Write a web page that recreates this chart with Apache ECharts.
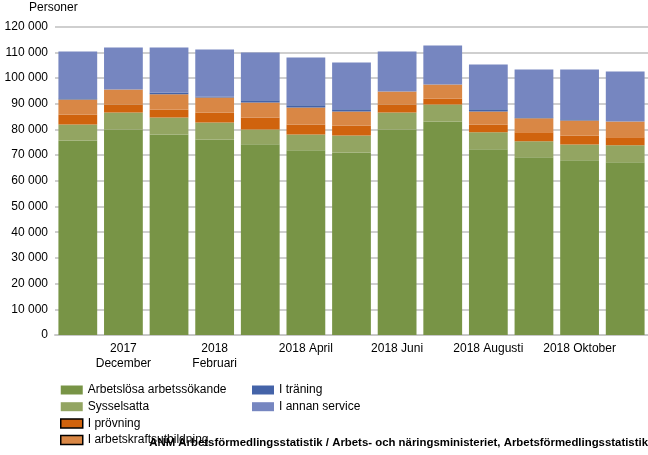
<!DOCTYPE html>
<html>
<head>
<meta charset="utf-8">
<script src="https://cdn.jsdelivr.net/npm/echarts@6/dist/echarts.min.js"></script>
<style>
html,body{margin:0;padding:0;background:#fff;}
#c{width:648px;height:455px;}
</style>
</head>
<body>
<div id="c"></div>
<script>
const categories = ['2017 November','2017 December','2018 Januari','2018 Februari','2018 Mars','2018 April','2018 Maj','2018 Juni','2018 Juli','2018 Augusti','2018 September','2018 Oktober','2018 November'];
const arbetslosa = [75700, 80000, 78050, 76100, 74200, 71850, 71050, 80000, 83100, 72250, 69150, 67950, 67200];
const sysselsatta = [6250, 6600, 6600, 6600, 5800, 6200, 6600, 6600, 6600, 6600, 6200, 6200, 6600];
const provning = [3850, 3100, 3100, 3900, 4650, 3900, 3900, 3100, 2350, 3100, 3500, 3500, 3100];
const utbildning = [5850, 5800, 5950, 5850, 5800, 6600, 5450, 5050, 5450, 5050, 5450, 5800, 6200];
const traning = [500, 0, 700, 400, 900, 800, 800, 0, 0, 800, 400, 500, 0];
const annanService = [18150, 16350, 17450, 18250, 18550, 18650, 18200, 15550, 15150, 17450, 18650, 19350, 19400];
const yTicks = [0, 10000, 20000, 30000, 40000, 50000, 60000, 70000, 80000, 90000, 100000, 110000, 120000];

const names = ['Arbetslösa arbetssökande','Sysselsatta','I prövning','I arbetskraftsutbildning','I träning','I annan service'];
const colors = ['#789446','#93A562','#D0630D','#D98745','#4463A8','#7686C0'];
const values = [arbetslosa, sysselsatta, provning, utbildning, traning, annanService];

const fmt = v => String(v).replace(/\B(?=(\d{3})+(?!\d))/g, ' ');
const font = 'Liberation Sans, Arial, sans-serif';

const chart = echarts.init(document.getElementById('c'));
chart.setOption({
  animation: false,
  color: colors,
  textStyle: {fontFamily: font},
  grid: {left: 55, right: 0, top: 26.6, bottom: 120, containLabel: false},
  xAxis: {
    type: 'category',
    data: categories,
    axisTick: {show: false},
    axisLine: {lineStyle: {color: '#c8c8c8', width: 2}},
    axisLabel: {
      interval: (i) => i % 2 === 1,
      color: '#000', fontSize: 12, fontFamily: font, lineHeight: 15, margin: 6,
      formatter: s => s.length > 12 ? s.replace(' ', '\n') : s
    }
  },
  yAxis: {
    type: 'value',
    min: yTicks[0], max: yTicks[yTicks.length - 1], interval: 10000,
    axisLine: {show: false}, axisTick: {show: false},
    splitLine: {lineStyle: {color: '#cfcfcf', width: 2}},
    axisLabel: {color: '#000', fontSize: 12, fontFamily: font, margin: 7, formatter: fmt}
  },
  legend: [
    {
      orient: 'vertical', left: 55, top: 379, icon: 'rect', itemWidth: 22, itemHeight: 9, itemGap: 4.7,
      textStyle: {color: '#000', fontSize: 12, fontFamily: font},
      data: [
        {name: names[0]},
        {name: names[1]},
        {name: names[2], itemStyle: {borderColor: '#000', borderWidth: 1.5}},
        {name: names[3], itemStyle: {borderColor: '#000', borderWidth: 1.5}}
      ]
    },
    {
      orient: 'vertical', left: 247, top: 379, icon: 'rect', itemWidth: 22, itemHeight: 9, itemGap: 4.7,
      textStyle: {color: '#000', fontSize: 12, fontFamily: font},
      data: [{name: names[4]}, {name: names[5]}]
    }
  ],
  graphic: [
    {type: 'text', left: 29, top: 2, style: {text: 'Personer', fontSize: 12, fontFamily: font, fill: '#000'}},
    {type: 'text', right: 0, top: 437.5, style: {text: 'ANM Arbetsförmedlingsstatistik / Arbets- och näringsministeriet, Arbetsförmedlingsstatistik', fontSize: 11.4, fontWeight: 'bold', fontFamily: font, fill: '#000'}}
  ],
  series: names.map((n, i) => ({
    name: n, type: 'bar', stack: 'total', data: values[i],
    barCategoryGap: '15%',
    itemStyle: {color: colors[i]}
  }))
});
</script>
</body>
</html>
